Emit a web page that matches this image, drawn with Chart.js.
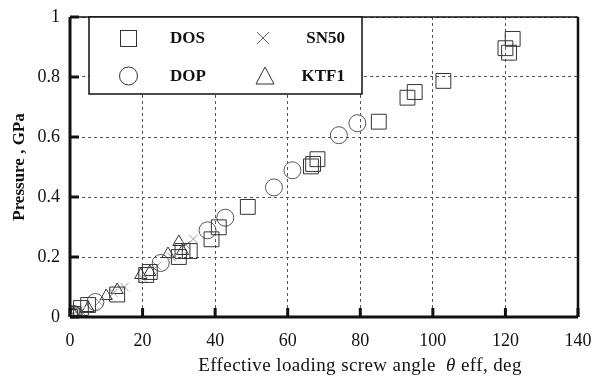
<!DOCTYPE html>
<html>
<head>
<meta charset="utf-8">
<script src="https://cdn.jsdelivr.net/npm/chart.js@4.4.1/dist/chart.umd.min.js"></script>
<style>
  html, body { margin: 0; padding: 0; background: #fff; }
  #wrap { width: 593px; height: 377px; }
</style>
</head>
<body>
<div id="wrap"><canvas id="chart"></canvas></div>
<script>
// Axis ticks
const xTicks = [0, 20, 40, 60, 80, 100, 120, 140];
const yTicks = [0, 0.2, 0.4, 0.6, 0.8, 1];

// DOS (squares)
const dosX = [0, 0.5, 1, 3, 5, 13, 21, 22, 30, 31, 33, 39, 41, 49, 66.4, 67, 68.2, 85.1, 93, 95, 102.9, 120, 121, 122];
const dosY = [0, 0.005, 0.01, 0.03, 0.04, 0.075, 0.14, 0.15, 0.2, 0.22, 0.22, 0.259, 0.299, 0.367, 0.502, 0.51, 0.526, 0.651, 0.731, 0.75, 0.787, 0.896, 0.881, 0.927];

// SN50 (crosses)
const snX = [0, 1, 3, 8, 12, 15, 20, 24, 28, 32, 34];
const snY = [0, 0.01, 0.02, 0.05, 0.08, 0.1, 0.13, 0.17, 0.2, 0.24, 0.26];

// DOP (circles)
const dopX = [0, 1, 7, 25, 37.9, 42.8, 56.2, 61.3, 74.1, 79.2];
const dopY = [0, 0.01, 0.05, 0.18, 0.289, 0.331, 0.432, 0.489, 0.606, 0.646];

// KTF1 (triangles)
const ktfX = [0, 1, 5, 10, 13, 19.5, 22, 27, 30, 31];
const ktfY = [0, 0.01, 0.03, 0.07, 0.09, 0.14, 0.15, 0.21, 0.25, 0.22];

const serif = "'Liberation Serif', 'Times New Roman', serif";
const pts = (xs, ys) => xs.map((v, i) => ({ x: v, y: ys[i] }));

// inward tick marks, top/right frame, x title and boxed legend
const frameAndLegend = {
  id: 'frameAndLegend',
  afterDraw(chart) {
    const { ctx, chartArea: a, scales: { x, y } } = chart;
    const line = (x1, y1, x2, y2) => { ctx.beginPath(); ctx.moveTo(x1, y1); ctx.lineTo(x2, y2); ctx.stroke(); };
    ctx.save();
    ctx.strokeStyle = '#111';
    ctx.lineWidth = 1.5;
    line(a.left, a.top, a.right, a.top);
    ctx.lineWidth = 2.5;
    line(a.right, a.top, a.right, a.bottom);
    ctx.lineWidth = 3;
    line(a.left, a.top, a.left, a.bottom);
    line(a.left, a.bottom, a.right, a.bottom);
    xTicks.forEach(v => { const px = x.getPixelForValue(v); line(px, a.bottom, px, a.bottom - 9); });
    yTicks.forEach(v => { const py = y.getPixelForValue(v); line(a.left, py, a.left + 9, py); });

    // x axis title, theta in italics
    ctx.fillStyle = '#111';
    ctx.textBaseline = 'alphabetic';
    ctx.textAlign = 'left';
    ctx.letterSpacing = '0.4px';
    const parts = [['Effective loading screw angle  ', '19px'], ['θ', 'italic 19px'], [' eff, deg', '19px']];
    let total = 0;
    parts.forEach(p => { ctx.font = p[1] + ' ' + serif; total += ctx.measureText(p[0]).width; });
    let tx = 360 - total / 2;
    parts.forEach(p => { ctx.font = p[1] + ' ' + serif; ctx.fillText(p[0], tx, 371); tx += ctx.measureText(p[0]).width; });
    ctx.letterSpacing = '0px';

    // legend box
    ctx.lineWidth = 1.5;
    ctx.fillStyle = '#fff';
    ctx.fillRect(89, 17, 273, 77);
    ctx.strokeRect(89, 17, 273, 77);
    ctx.lineWidth = 1;
    ctx.strokeStyle = '#333';
    ctx.strokeRect(120.5, 30.5, 16, 16);
    ctx.beginPath(); ctx.arc(128.5, 76, 9, 0, Math.PI * 2); ctx.stroke();
    ctx.strokeStyle = '#666';
    line(257, 32, 269, 44); line(269, 32, 257, 44);
    ctx.strokeStyle = '#333';
    ctx.beginPath(); ctx.moveTo(265, 67); ctx.lineTo(274, 84); ctx.lineTo(256, 84); ctx.closePath(); ctx.stroke();
    ctx.fillStyle = '#111';
    ctx.font = 'bold 17px ' + serif;
    ctx.textBaseline = 'middle';
    ctx.textAlign = 'left';
    ctx.fillText('DOS', 170, 39);
    ctx.fillText('DOP', 170, 77);
    ctx.textAlign = 'right';
    ctx.fillText('SN50', 345, 39);
    ctx.fillText('KTF1', 345, 77);
    ctx.restore();
  }
};

new Chart(document.getElementById('chart'), {
  type: 'scatter',
  data: {
    datasets: [
      { label: 'DOS', data: pts(dosX, dosY), pointStyle: 'rect', pointRadius: 10.5, borderColor: '#333', borderWidth: 1, backgroundColor: 'transparent' },
      { label: 'SN50', data: pts(snX, snY), pointStyle: 'crossRot', pointRadius: 6, borderColor: '#999', borderWidth: 1, backgroundColor: 'transparent' },
      { label: 'DOP', data: pts(dopX, dopY), pointStyle: 'circle', pointRadius: 8.5, borderColor: '#555', borderWidth: 1, backgroundColor: 'transparent' },
      { label: 'KTF1', data: pts(ktfX, ktfY), pointStyle: 'triangle', pointRadius: 7, borderColor: '#333', borderWidth: 1, backgroundColor: 'transparent' }
    ]
  },
  options: {
    responsive: true,
    maintainAspectRatio: false,
    animation: false,
    devicePixelRatio: 1,
    layout: { padding: { top: 17, right: 15, left: 0, bottom: 0 } },
    plugins: { legend: { display: false }, tooltip: { enabled: false } },
    scales: {
      x: {
        type: 'linear', min: 0, max: 140,
        afterBuildTicks: s => { s.ticks = xTicks.map(v => ({ value: v })); },
        afterFit: s => { s.height = 60; s.paddingLeft = 0; s.paddingRight = 0; },
        grid: { color: '#555', lineWidth: 1, drawTicks: false },
        border: { display: false, dash: [3, 3] },
        ticks: { color: '#111', padding: 13, font: { family: serif, size: 18 }, callback: v => String(v) },
        title: { display: false }
      },
      y: {
        type: 'linear', min: 0, max: 1,
        afterBuildTicks: s => { s.ticks = yTicks.map(v => ({ value: v })); },
        afterFit: s => { s.width = 70; s.paddingTop = 0; s.paddingBottom = 0; },
        grid: { color: '#555', lineWidth: 1, drawTicks: false },
        border: { display: false, dash: [3, 3] },
        ticks: { color: '#111', padding: 10, font: { family: serif, size: 18 }, callback: v => String(v) },
        title: { display: true, text: 'Pressure , GPa', color: '#111', font: { family: serif, size: 17, weight: 'bold' }, padding: { top: 9, bottom: 0 } }
      }
    }
  },
  plugins: [frameAndLegend]
});
</script>
</body>
</html>
